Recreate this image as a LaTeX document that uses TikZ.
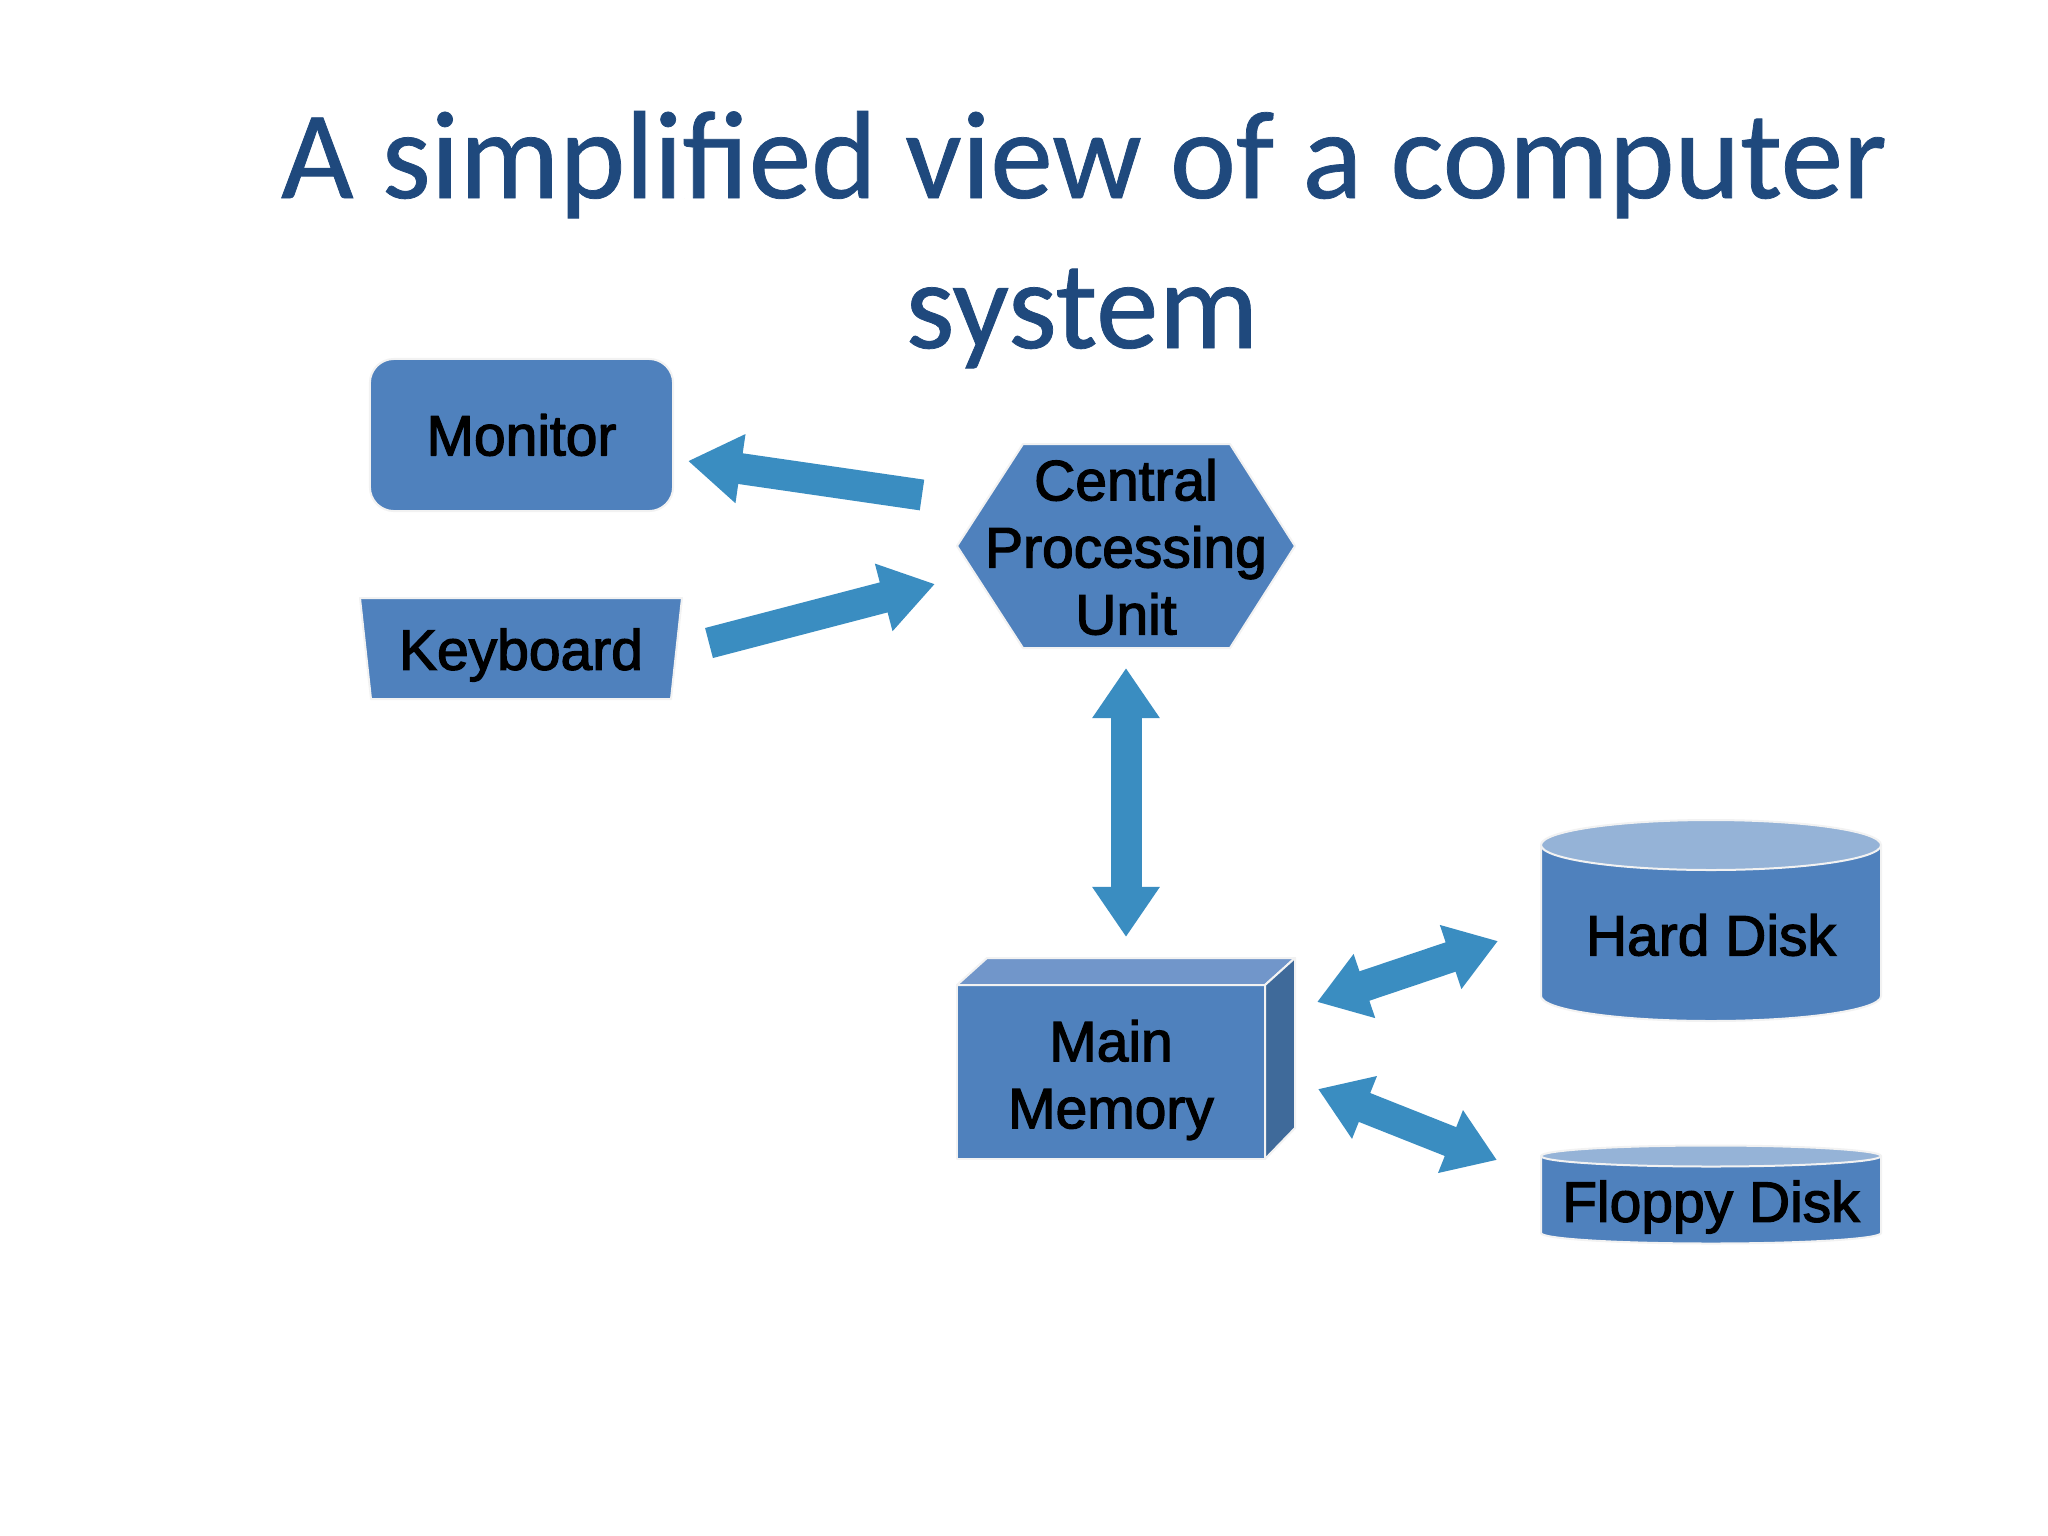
\documentclass[tikz,border=0pt]{standalone}
\usepackage{fontspec}
\setmainfont{Liberation Sans}
\newfontfamily\bodyfont{Liberation Sans}[FakeBold=2.2]
\newfontfamily\titlefont{Carlito}[FakeBold=0.6]
\usetikzlibrary{arrows.meta,calc}
\definecolor{shapefill}{HTML}{4F81BD}
\definecolor{arrowc}{HTML}{3A8DC1}
\definecolor{titleblue}{HTML}{1F497D}
\definecolor{lighttop}{HTML}{95B3D7}
\definecolor{cubetop}{HTML}{7196CA}
\definecolor{cubeside}{HTML}{3F6A9A}
\definecolor{edgec}{HTML}{F2F2F2}
\begin{document}
\begin{tikzpicture}[x=0.01cm,y=-0.01cm,
  shapebody/.style={fill=shapefill, draw=edgec, line width=0.2mm, line join=round},
  lbl/.style={font=\bodyfont\fontsize{16.2}{19.06}\selectfont, align=center, text=black, inner sep=0pt},
  titletext/.style={font=\titlefont\fontsize{35.6}{42.7}\selectfont, text=titleblue, inner sep=0pt, anchor=base},
  onehead/.style={draw=arrowc, line width=3.1mm, -{Triangle[length=5.3mm, width=6.6mm]}},
  twohead/.style={draw=arrowc, line width=3.1mm, {Triangle[length=5mm, width=6.4mm]}-{Triangle[length=5mm, width=6.4mm]}}
]
\useasboundingbox (0,0) rectangle (2048,1536);
\fill[white] (0,0) rectangle (2048,1536);

% title
\node[titletext] (title1) at (1084,198) {A simplified view of a computer};
\node[titletext] (title2) at (1082,348) {system};

% Monitor
\node[shapebody, rounded corners=0.24cm, minimum width=3.03cm, minimum height=1.52cm, lbl, inner sep=0pt] (monitor) at (521.5,435) {Monitor};

% Keyboard (manual operation trapezoid)
\path[shapebody] (360,598) -- (682,598) -- (671,699) -- (371,699) -- cycle;
\node[lbl] (keyboard) at (521,655) {Keyboard};

% CPU hexagon
\path[shapebody] (957,546) -- (1023,444) -- (1230,444) -- (1295,546) -- (1230,648) -- (1023,648) -- cycle;
\node[lbl] (cpu) at (1126,547) {Central\\Processing\\Unit};

% Main memory cube
\path[shapebody] (957,985) -- (1265,985) -- (1265,1159) -- (957,1159) -- cycle;
\path[shapebody, fill=cubetop] (957,985) -- (987,958) -- (1295,958) -- (1265,985) -- cycle;
\path[shapebody, fill=cubeside] (1265,985) -- (1295,958) -- (1295,1128) -- (1265,1159) -- cycle;
\node[lbl] (mem) at (1111,1080) {Main\\Memory};

% Hard disk cylinder
\path[shapebody] (1541,845) -- (1541,996) arc[start angle=180, end angle=0, x radius=170, y radius=25] -- (1881,845) -- cycle;
\path[shapebody, fill=lighttop] (1711,845) ellipse[x radius=170, y radius=25];
\node[lbl] (hd) at (1711,935) {Hard Disk};

% Floppy disk cylinder
\path[shapebody] (1541,1156) -- (1541,1233) arc[start angle=180, end angle=0, x radius=170, y radius=10.5] -- (1881,1156) -- cycle;
\path[shapebody, fill=lighttop] (1711,1156) ellipse[x radius=170, y radius=10.5];
\node[lbl] (fd) at (1711,1207) {Floppy Disk};

% arrow end points
\coordinate (cpuMonTail) at (922,495);
\coordinate (monTip) at (688,461);
\coordinate (kbdTail) at (709,643);
\coordinate (cpuKbdTip) at (935,584);
\coordinate (cpuBottom) at (1126,668);
\coordinate (memTop) at (1126,937);
\coordinate (memHd) at (1317,1002);
\coordinate (hdMem) at (1498,941);
\coordinate (memFd) at (1318,1089);
\coordinate (fdMem) at (1497,1160);

\draw[onehead] (cpuMonTail) -- (monTip);
\draw[onehead] (kbdTail) -- (cpuKbdTip);
\draw[twohead] (cpuBottom) -- (memTop);
\draw[twohead] (memHd) -- (hdMem);
\draw[twohead] (memFd) -- (fdMem);
\end{tikzpicture}
\end{document}
